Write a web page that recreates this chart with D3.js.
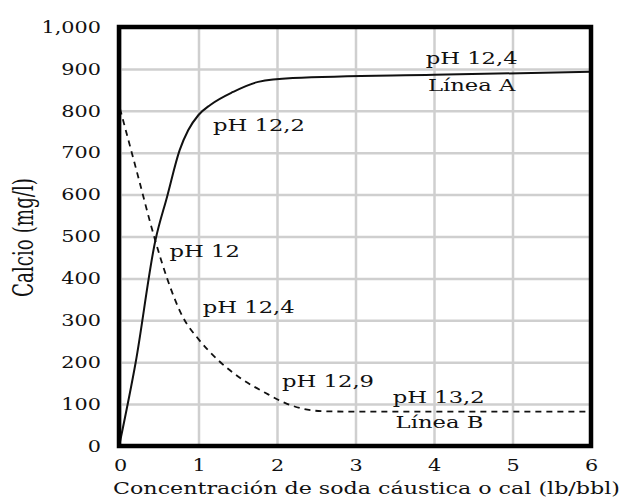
<!DOCTYPE html>
<html>
<head>
<meta charset="utf-8">
<script src="https://cdn.jsdelivr.net/npm/d3@7"></script>
<style>
  body { margin: 0; background: #fff; }
  text { font-family: "DejaVu Serif", serif; fill: #111; }
</style>
</head>
<body>
<svg id="chart" width="621" height="501"></svg>
<script>
// tick values
var xTicks = [0, 1, 2, 3, 4, 5, 6];
var yTicks = [0, 100, 200, 300, 400, 500, 600, 700, 800, 900, 1000];

// Linea A (solid) - [lb/bbl, mg/l]
var lineaA = [[0, 10], [0.2, 200], [0.45, 490], [0.6, 595], [0.76, 706], [0.87, 754],
    [1.0, 790], [1.15, 814], [1.44, 845], [1.76, 869], [2.2, 878], [4, 886], [6, 893]];

// Linea B (dashed)
var lineaB = [[0, 805], [0.2, 665], [0.45, 490], [0.6, 400], [0.8, 308], [1.0, 255],
    [1.25, 205], [1.55, 160], [1.85, 127], [2.1, 103], [2.35, 88], [2.6, 83], [3, 82], [5.95, 82]];

// annotation texts and their anchor point in data units
var labelText = ["pH 12,4", "Línea A", "pH 12,2", "pH 12", "pH 12,4", "pH 12,9", "pH 13,2", "Línea B"];
var labelX = [4.48, 4.48, 1.77, 1.08, 1.64, 2.65, 4.06, 4.07];
var labelY = [912, 847, 752, 451, 317, 141, 103, 43];

var svg = d3.select("#chart");

var x = d3.scaleLinear().domain([0, 6]).range([120, 591]);
var y = d3.scaleLinear().domain([0, 1000]).range([446, 27]);

/*
    grid
*/
svg.append("g")
    .attr("transform", "translate(0," + y(0) + ")")
    .call(d3.axisBottom(x).tickValues(xTicks).tickSize(-(y(0) - y(1000))).tickFormat(""))
    .call(function(g){ g.select(".domain").remove() })
    .selectAll("line").attr("stroke", "#cfcfcf").attr("stroke-width", 2.5);

svg.append("g")
    .attr("transform", "translate(" + x(0) + ",0)")
    .call(d3.axisLeft(y).tickValues(yTicks).tickSize(-(x(6) - x(0))).tickFormat(""))
    .call(function(g){ g.select(".domain").remove() })
    .selectAll("line").attr("stroke", "#cfcfcf").attr("stroke-width", 2.5);

/*
    tick labels
*/
var yAxis = svg.append("g")
    .attr("transform", "translate(" + x(0) + ",0)")
    .call(d3.axisLeft(y).tickValues(yTicks).tickSize(0).tickFormat(d3.format(",")));
yAxis.select(".domain").remove();
yAxis.selectAll("text")
    .attr("x", -19 / 1.3)
    .attr("dy", "0.33em")
    .attr("transform", "scale(1.3,1)")
    .style("font-size", "16px")
    .style("font-family", "DejaVu Serif");

var xAxis = svg.append("g")
    .attr("transform", "translate(0," + y(0) + ")")
    .call(d3.axisBottom(x).tickValues(xTicks).tickSize(0).tickFormat(d3.format("d")));
xAxis.select(".domain").remove();
xAxis.selectAll("text")
    .attr("y", 0)
    .attr("dy", 0)
    .attr("transform", "translate(0,25) scale(1.3,1)")
    .style("font-size", "16px")
    .style("font-family", "DejaVu Serif");

/*
    curves
*/
var line = d3.line()
    .x(function(d){ return x(d[0]) })
    .y(function(d){ return y(d[1]) })
    .curve(d3.curveMonotoneX);

svg.append("path")
    .datum(lineaA)
    .attr("d", line)
    .attr("fill", "none")
    .attr("stroke", "#111")
    .attr("stroke-width", 2);

svg.append("path")
    .datum(lineaB)
    .attr("d", line)
    .attr("fill", "none")
    .attr("stroke", "#111")
    .attr("stroke-width", 1.8)
    .attr("stroke-dasharray", "6,5");

/*
    frame
*/
svg.append("rect")
    .attr("x", x(0) - 1)
    .attr("y", y(1000))
    .attr("width", x(6) - x(0) + 1)
    .attr("height", y(0) - y(1000))
    .attr("fill", "none")
    .attr("stroke", "#000")
    .attr("stroke-width", 4.5);

/*
    annotations
*/
svg.append("g").selectAll("text")
    .data(labelText)
    .join("text")
    .attr("transform", function(d, i){ return "translate(" + x(labelX[i]) + "," + y(labelY[i]) + ") scale(1.42,1)" })
    .attr("text-anchor", "middle")
    .style("font-size", "16px")
    .text(function(d){ return d });

/*
    axis titles
*/
svg.append("text")
    .attr("x", 113)
    .attr("y", 494)
    .attr("textLength", 507)
    .attr("lengthAdjust", "spacingAndGlyphs")
    .style("font-size", "16px")
    .text("Concentración de soda cáustica o cal (lb/bbl)");

svg.append("text")
    .attr("transform", "translate(33,297) scale(1.5,1) rotate(-90)")
    .attr("textLength", 119)
    .attr("lengthAdjust", "spacingAndGlyphs")
    .style("font-size", "18px")
    .text("Calcio (mg/l)");
</script>
</body>
</html>
